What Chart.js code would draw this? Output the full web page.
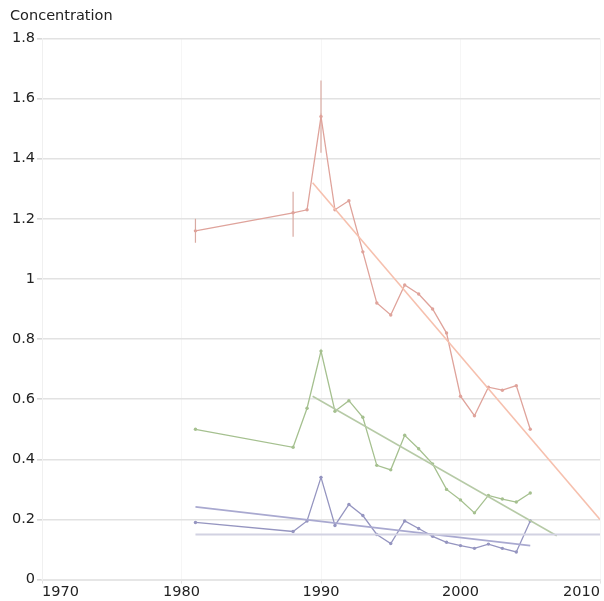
<!DOCTYPE html>
<html>
<head>
<meta charset="utf-8">
<script src="https://cdn.jsdelivr.net/npm/chart.js@4/dist/chart.umd.min.js"></script>
<style>
  body { margin: 0; background: #fff; }
  .chart-box { width: 604px; height: 601px; }
</style>
</head>
<body>
<div class="chart-box"><canvas id="myChart" width="604" height="601"></canvas></div>
<script>
const canvasChart = document.getElementById("myChart").getContext("2d");

// valores
const years = [1981, 1988, 1989, 1990, 1991, 1992, 1993, 1994, 1995, 1996, 1997, 1998, 1999, 2000, 2001, 2002, 2003, 2004, 2005];
const redValues = [1.16, 1.22, 1.23, 1.54, 1.23, 1.26, 1.09, 0.92, 0.88, 0.98, 0.95, 0.9, 0.82, 0.61, 0.545, 0.64, 0.63, 0.645, 0.5];
const greenValues = [0.5, 0.44, 0.57, 0.76, 0.56, 0.595, 0.54, 0.38, 0.365, 0.48, 0.435, 0.385, 0.3, 0.265, 0.222, 0.28, 0.268, 0.258, 0.288];
const blueValues = [0.19, 0.16, 0.195, 0.34, 0.18, 0.25, 0.213, 0.15, 0.12, 0.195, 0.17, 0.144, 0.124, 0.113, 0.104, 0.118, 0.104, 0.092, 0.195];

// barras de error de la serie roja: [año, minimo, maximo]
const redErrors = [
  [1981, 1.12, 1.2],
  [1988, 1.14, 1.29],
  [1990, 1.42, 1.66],
];

// lineas de tendencia: [inicio, fin]
const redTrend = [[1989.4, 1.32], [2010, 0.2]];
const greenTrend = [[1989.4, 0.61], [2006.9, 0.146]];
const blueTrend = [[1981, 0.242], [2005, 0.113]];
const limitLine = [[1981, 0.15], [2010, 0.15]];

const xTicks = [1970, 1980, 1990, 2000, 2010];
const yTitle = "Concentration";

function toPoints(xs, ys) {
  return xs.map((x, i) => ({ x: x, y: ys[i] }));
}

function pairPoints(pair) {
  return pair.map((p) => ({ x: p[0], y: p[1] }));
}

function lineSet(data, color, width, radius) {
  return {
    data: data,
    borderColor: color,
    backgroundColor: color,
    borderWidth: width,
    pointRadius: radius,
    pointBorderWidth: 0,
    tension: 0,
    fill: false,
  };
}

const datasets = [
  lineSet(pairPoints(limitLine), "#d2d2e2", 2, 0),
  lineSet(pairPoints(redTrend), "#f6c0ae", 1.6, 0),
  lineSet(pairPoints(greenTrend), "#b6caa6", 1.6, 0),
  lineSet(pairPoints(blueTrend), "#a9a9d0", 1.6, 0),
  lineSet(toPoints(years, redValues), "#dfa39b", 1.3, 1.7),
  lineSet(toPoints(years, greenValues), "#a5c08f", 1.3, 1.7),
  lineSet(toPoints(years, blueValues), "#9595c0", 1.3, 1.7),
];

redErrors.forEach((e) => {
  datasets.push(lineSet([{ x: e[0], y: e[1] }, { x: e[0], y: e[2] }], "#d9aaa2", 1.2, 0));
});

const myChart = new Chart(canvasChart, {
  type: "line",
  data: { datasets: datasets },
  options: {
    responsive: false,
    animation: false,
    layout: { padding: { left: 10, right: 0, top: 0, bottom: 0 } },
    plugins: {
      legend: { display: false },
      tooltip: { enabled: false },
      title: {
        display: true,
        text: yTitle,
        align: "start",
        color: "#222",
        font: { family: "DejaVu Sans", size: 14.5, weight: "normal" },
        padding: { top: 8, bottom: 13 },
      },
    },
    scales: {
      x: {
        type: "linear",
        min: 1970,
        max: 2010,
        afterBuildTicks: (scale) => {
          scale.ticks = xTicks.map((v) => ({ value: v }));
        },
        ticks: {
          align: "inner",
          color: "#222",
          padding: 0,
          font: { family: "DejaVu Sans", size: 14.5 },
          callback: (v) => String(v),
        },
        grid: {
          color: "rgba(0,0,0,0.035)",
          tickColor: "#e2e2e2",
          tickLength: 4,
        },
        border: { color: "#e6e6e6", width: 2 },
      },
      y: {
        min: 0,
        max: 1.8,
        afterFit: (scale) => {
          scale.width = 32;
        },
        ticks: {
          stepSize: 0.2,
          color: "#222",
          padding: 2,
          font: { family: "DejaVu Sans", size: 14.5 },
          callback: (v) => String(Math.round(v * 10) / 10),
        },
        grid: {
          color: "#e2e2e2",
          lineWidth: 1.6,
          tickColor: "#d8d8d8",
          tickLength: 5,
        },
        border: { color: "#f0f0f0", width: 1 },
      },
    },
  },
});
</script>
</body>
</html>
